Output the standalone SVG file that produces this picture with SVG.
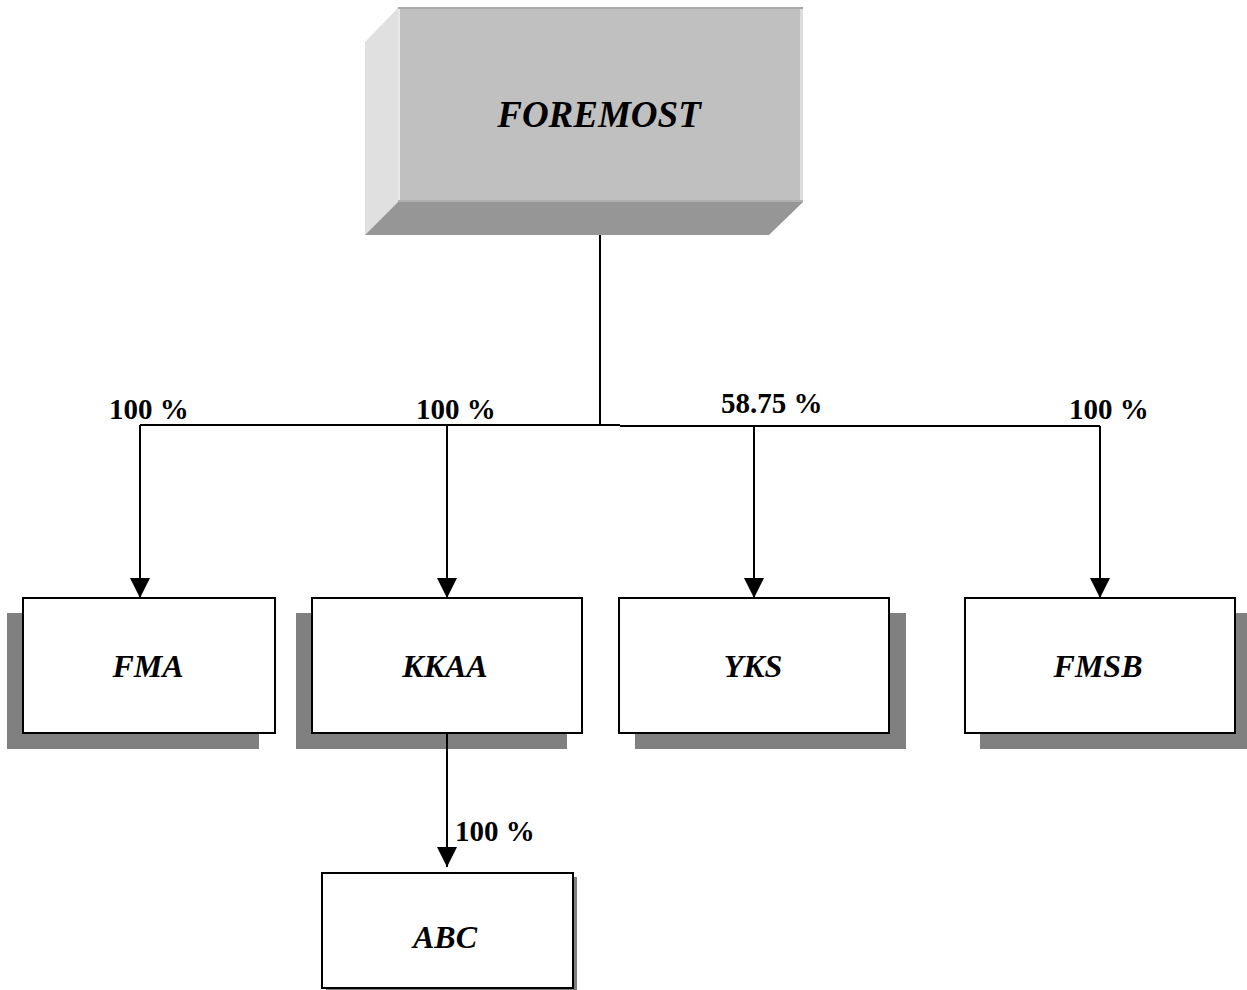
<svg xmlns="http://www.w3.org/2000/svg" width="1247" height="990" viewBox="0 0 1247 990">
<style>
.box{fill:#ffffff;stroke:#000000;stroke-width:2}
.shadow{fill:#808080}
.name{font-family:"Liberation Serif","Times New Roman",serif;font-weight:bold;font-style:italic;font-size:32px;text-anchor:middle;fill:#000}
.pct{font-family:"Liberation Serif","Times New Roman",serif;font-weight:bold;font-size:29px;fill:#000}
.conn{fill:none;stroke:#000;stroke-width:2}
</style>
<defs>
<marker id="arrow" markerUnits="userSpaceOnUse" markerWidth="22" markerHeight="22" refX="20" refY="10" orient="auto">
<path d="M0,0 L20,10 L0,20 Z" fill="#000"/>
</marker>
</defs>
<rect width="1247" height="990" fill="#ffffff"/>
<g id="node-foremost">
<polygon points="365,42 398,8 398,202 365,235" fill="#e0e0e0"/>
<polygon points="365,235 398,202 803,202 769,235" fill="#969696"/>
<rect x="398" y="8" width="405" height="194" fill="#c0c0c0"/>
<line x1="398" y1="8" x2="803" y2="8" stroke="#a8a8a8" stroke-width="2"/>
<line x1="399" y1="9" x2="399" y2="202" stroke="#e8e8e8" stroke-width="2"/>
<line x1="801.5" y1="9" x2="801.5" y2="202" stroke="#dcdcdc" stroke-width="3"/>
<line x1="398" y1="201" x2="803" y2="201" stroke="#b0b0b0" stroke-width="2"/>
<text x="599" y="127" class="name" style="font-size:37px">FOREMOST</text>
</g>
<g id="node-fma">
<rect x="7" y="613" width="252" height="136" class="shadow"/>
<rect x="23" y="598" width="252" height="135" class="box"/>
<text x="148" y="677" class="name">FMA</text>
</g>
<g id="node-kkaa">
<rect x="296" y="613" width="271" height="136" class="shadow"/>
<rect x="312" y="598" width="270" height="135" class="box"/>
<text x="445" y="677" class="name">KKAA</text>
</g>
<g id="node-yks">
<rect x="635" y="613" width="271" height="136" class="shadow"/>
<rect x="619" y="598" width="270" height="135" class="box"/>
<text x="753" y="677" class="name">YKS</text>
</g>
<g id="node-fmsb">
<rect x="980" y="613" width="267" height="136" class="shadow"/>
<rect x="965" y="598" width="270" height="135" class="box"/>
<text x="1098" y="677" class="name">FMSB</text>
</g>
<g id="node-abc">
<rect x="326" y="877" width="251" height="113" class="shadow"/>
<rect x="322" y="873" width="251" height="115" class="box"/>
<text x="445" y="948" class="name">ABC</text>
</g>
<g id="connectors">
<path class="conn" d="M600,235 V425"/>
<path class="conn" d="M140,425 H620 M620,426 H1100"/>
<path class="conn" d="M140,425 V598" marker-end="url(#arrow)"/>
<path class="conn" d="M447,425 V598" marker-end="url(#arrow)"/>
<path class="conn" d="M754,426 V598" marker-end="url(#arrow)"/>
<path class="conn" d="M1100,426 V598" marker-end="url(#arrow)"/>
<path class="conn" d="M447,733 V867" marker-end="url(#arrow)"/>
</g>
<g id="labels">
<text x="109" y="419" class="pct">100 %</text>
<text x="416" y="419" class="pct">100 %</text>
<text x="721" y="413" class="pct">58.75 %</text>
<text x="1069" y="419" class="pct">100 %</text>
<text x="455" y="841" class="pct">100 %</text>
</g>
</svg>
